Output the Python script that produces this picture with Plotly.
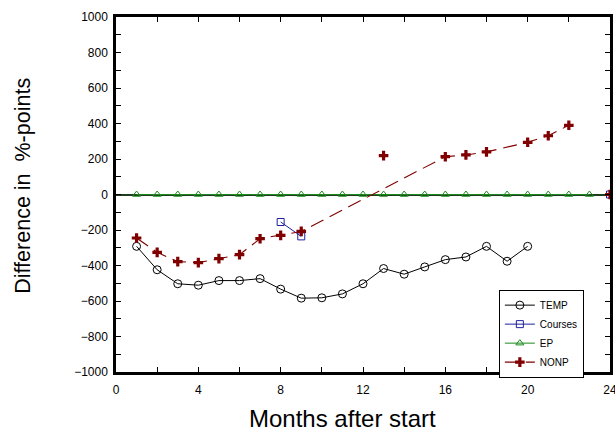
import plotly.graph_objects as go

# Monthly differences in percentage points by programme
temp_months = list(range(1, 21))
temp_values = [-292, -424, -503, -511, -485, -485, -474, -533, -584, -582,
               -560, -503, -417, -449, -408, -367, -352, -292, -376, -292]

courses_months = [8, 9]
courses_values = [-155, -236]
courses_end_month = [24]
courses_end_value = [0]

ep_months = list(range(1, 24))
ep_values = [0] * 23

# NONP: connected run and stand-alone observations
nonp_months = [1, 2, 3, 4, 5, 6, 7, 8, 9, 16, 17, 18, 20, 21, 22]
nonp_values = [-245, -326, -378, -384, -361, -339, -249, -230, -208,
               213, 223, 240, 294, 331, 390]
nonp_single_months = [13, 24]
nonp_single_values = [219, 0]

x_ticks = [0, 4, 8, 12, 16, 20, 24]
y_ticks = list(range(-1000, 1001, 200))
y_tick_text = [("\u2212" + str(abs(v))) if v < 0 else str(v) for v in y_ticks]

DARKRED = "#800000"
font_main = "Liberation Sans, Arial, sans-serif"

fig = go.Figure()

fig.add_trace(go.Scatter(
    x=temp_months, y=temp_values, name="TEMP", mode="lines+markers",
    line=dict(color="black", width=1),
    marker=dict(symbol="circle-open", size=8, color="black", line=dict(width=1)),
))
fig.add_trace(go.Scatter(
    x=courses_months, y=courses_values, name="Courses", mode="lines+markers",
    line=dict(color="#1f1fa0", width=1),
    marker=dict(symbol="square-open", size=7, color="#1f1fa0", line=dict(width=1)),
))
fig.add_trace(go.Scatter(
    x=courses_end_month, y=courses_end_value, mode="markers", showlegend=False,
    marker=dict(symbol="square-open", size=7, color="#1f1fa0", line=dict(width=1)),
))
fig.add_trace(go.Scatter(
    x=ep_months, y=ep_values, name="EP", mode="lines+markers",
    line=dict(color="#1a8a1a", width=1),
    marker=dict(symbol="triangle-up-open", size=7, color="#1a8a1a", line=dict(width=1)),
))
fig.add_trace(go.Scatter(
    x=nonp_months, y=nonp_values, name="NONP", mode="lines+markers",
    line=dict(color=DARKRED, width=1.1, dash="14px,7px"),
    marker=dict(symbol="cross", size=8, color=DARKRED),
))
fig.add_trace(go.Scatter(
    x=nonp_single_months, y=nonp_single_values, mode="markers", showlegend=False,
    marker=dict(symbol="cross", size=8, color=DARKRED),
))

axis_common = dict(
    showgrid=False, showline=True, linecolor="black", linewidth=2.5, mirror="ticks",
    ticks="inside", ticklen=5, tickwidth=1, tickcolor="black", automargin=False,
    ticklabeloverflow="allow",
    tickfont=dict(family=font_main, size=12, color="black"),
)

fig.update_xaxes(
    range=[0, 24], tickvals=x_ticks, ticktext=[str(v) for v in x_ticks],
    minor=dict(dtick=2, ticks="inside", ticklen=5, tickcolor="black", showgrid=False),
    zeroline=False, ticklabelstandoff=5,
    **axis_common,
)
fig.update_yaxes(
    range=[-1000, 1000], tickvals=y_ticks, ticktext=y_tick_text,
    minor=dict(dtick=100, ticks="inside", ticklen=5, tickcolor="black", showgrid=False),
    zeroline=True, zerolinecolor="#1e3d1e", zerolinewidth=1.5, ticklabelstandoff=3,
    **axis_common,
)

# Axis titles placed as annotations
fig.add_annotation(
    text="Months after start", xref="paper", yref="paper",
    x=0.4575, y=0, yshift=-46, xanchor="center", yanchor="middle", showarrow=False,
    font=dict(family=font_main, size=24, color="black"),
)
fig.add_annotation(
    text="Difference in  %-points", xref="paper", yref="paper", textangle=-90,
    x=0, xshift=-93, y=0.5246, xanchor="center", yanchor="middle", showarrow=False,
    font=dict(family=font_main, size=21.5, color="black"),
)

fig.update_layout(
    width=615, height=434,
    margin=dict(l=116, r=5, t=17, b=62),
    paper_bgcolor="white", plot_bgcolor="white",
    font=dict(family=font_main, size=12, color="black"),
    legend=dict(
        x=0.775, y=0.232, xanchor="left", yanchor="top",
        bgcolor="white", bordercolor="black", borderwidth=1,
        font=dict(family=font_main, size=10, color="black"),
        itemwidth=30, tracegroupgap=0,
    ),
)

fig.write_html("out.html")
